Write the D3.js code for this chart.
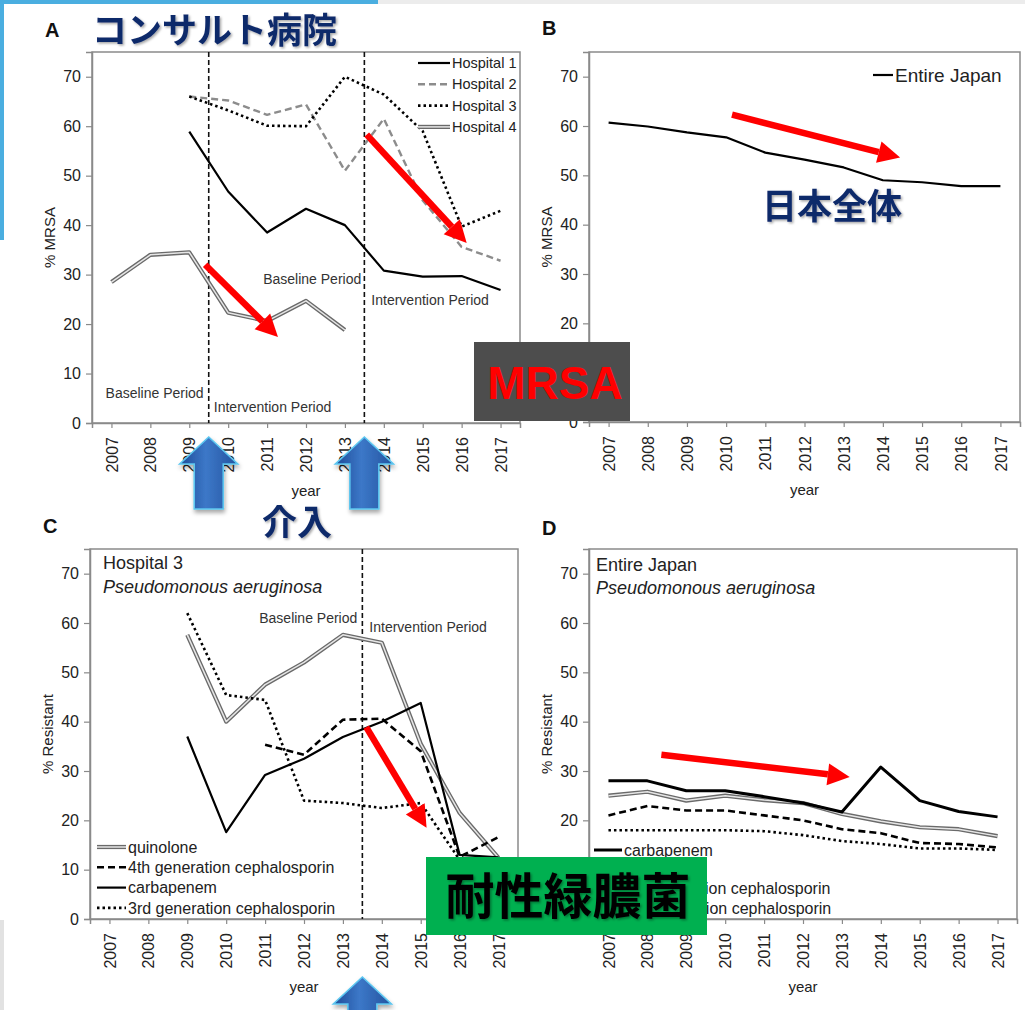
<!DOCTYPE html>
<html>
<head>
<meta charset="utf-8">
<script src="https://cdn.jsdelivr.net/npm/d3@7"></script>
<style>
  html, body { margin: 0; padding: 0; background: #fff; }
  svg { display: block; }
</style>
</head>
<body>
<svg id="chart" width="1025" height="1010"></svg>
<script>
// ---------- data ----------
const years  = [2007, 2008, 2009, 2010, 2011, 2012, 2013, 2014, 2015, 2016, 2017];
const yTicks = [0, 10, 20, 30, 40, 50, 60, 70];

// A: MRSA (%) in the consulted hospitals
const hospital1 = [null, null, 58.9, 46.8, 38.5, 43.3, 40.0, 30.8, 29.6, 29.7, 26.9];
const hospital2 = [null, null, 66.0, 65.2, 62.3, 64.4, 51.0, 61.5, 45.0, 35.6, 32.8];
const hospital3 = [null, null, 66.0, 63.2, 60.1, 60.0, 70.0, 66.4, 59.0, 39.7, 42.9];
const hospital4 = [28.5, 34.0, 34.5, 22.3, 20.6, 24.7, 18.8, null, null, null, null];

// B: MRSA (%) in all of Japan
const japanMRSA = [60.7, 59.9, 58.7, 57.7, 54.6, 53.2, 51.6, 49.0, 48.6, 47.8, 47.8];

// C: Pseudomonas resistance (%) in Hospital 3
const h3Quinolone  = [null, null, 57.6, 40.0, 47.5, 52.0, 57.6, 56.0, 35.5, 21.5, 12.4];
const h3Fourth     = [null, null, null, null, 35.3, 33.3, 40.4, 40.6, 34.0, 12.6, 16.6];
const h3Carbapenem = [null, null, 37.0, 17.6, 29.2, 32.5, 36.9, 40.0, 43.8, 13.0, 12.5];
const h3Third      = [null, null, 62.0, 45.4, 44.4, 24.0, 23.5, 22.5, 23.5, 12.0, 10.0];

// D: Pseudomonas resistance (%) in all of Japan
const jpCarbapenem = [28.0, 28.0, 26.0, 26.0, 24.8, 23.5, 21.7, 30.8, 24.0, 21.8, 20.7];
const jpQuinolone  = [25.0, 25.8, 24.0, 25.0, 24.1, 23.5, 21.3, 19.8, 18.6, 18.2, 16.8];
const jpFourth     = [21.0, 22.9, 22.0, 22.0, 21.0, 20.0, 18.2, 17.4, 15.4, 15.2, 14.5];
const jpThird      = [18.0, 18.0, 18.0, 18.0, 17.8, 17.0, 15.8, 15.2, 14.3, 14.3, 14.0];

const interventionA = [2009.5, 2013.5];
const interventionC = [2013.5];

// ---------- setup ----------
const LATIN = '"Liberation Sans", Arial, Helvetica, sans-serif';
const CJK = '"Noto Sans CJK JP", "Noto Sans CJK SC", sans-serif';
const NAVY = '#10296b';

const svg = d3.select('#chart');
const defs = svg.append('defs');

const shadow = defs.append('filter').attr('id', 'txtShadow')
  .attr('x', '-10%').attr('y', '-20%').attr('width', '130%').attr('height', '150%');
shadow.append('feDropShadow').attr('dx', 1.5).attr('dy', 1.5).attr('stdDeviation', 1.2)
  .attr('flood-color', '#000').attr('flood-opacity', 0.35);

const arrowShadow = defs.append('filter').attr('id', 'arrowShadow')
  .attr('x', '-30%').attr('y', '-20%').attr('width', '160%').attr('height', '150%');
arrowShadow.append('feDropShadow').attr('dx', 1).attr('dy', 3).attr('stdDeviation', 2)
  .attr('flood-color', '#000').attr('flood-opacity', 0.35);

const blueGrad = defs.append('linearGradient').attr('id', 'blueGrad')
  .attr('x1', 0).attr('x2', 1).attr('y1', 0).attr('y2', 0);
blueGrad.append('stop').attr('offset', 0).attr('stop-color', '#1e4b98');
blueGrad.append('stop').attr('offset', 0.45).attr('stop-color', '#3c78c8');
blueGrad.append('stop').attr('offset', 1).attr('stop-color', '#24539f');

// slide background trims
svg.append('rect').attr('x', 0).attr('y', 0).attr('width', 378).attr('height', 4).attr('fill', '#4aaee0');
svg.append('rect').attr('x', 378).attr('y', 0).attr('width', 647).attr('height', 4).attr('fill', '#ececec');
svg.append('rect').attr('x', 0).attr('y', 0).attr('width', 4).attr('height', 240).attr('fill', '#4aaee0');
svg.append('rect').attr('x', 0).attr('y', 920).attr('width', 4).attr('height', 90).attr('fill', '#e2e2e2');

// ---------- helpers ----------
function panel(p) {
  const g = svg.append('g');
  const x = d3.scaleLinear().domain([2006.5, 2017.5]).range([p.left, p.right]);
  const y = d3.scaleLinear().domain([0, 75]).range([p.bottom, p.top]);

  g.append('rect')
    .attr('x', p.left).attr('y', p.top)
    .attr('width', p.right - p.left).attr('height', p.bottom - p.top)
    .attr('fill', '#fff').attr('stroke', '#8a8a8a').attr('stroke-width', 1.5);

  const ya = g.append('g').attr('transform', `translate(${p.left},0)`)
    .call(d3.axisLeft(y).tickValues(yTicks).tickSize(6).tickPadding(5));
  ya.select('.domain').attr('stroke', '#8a8a8a').attr('stroke-width', 1.5);
  ya.selectAll('.tick line').attr('stroke', '#8a8a8a').attr('stroke-width', 1.2);
  ya.selectAll('.tick text').attr('font-size', 16).attr('font-family', LATIN).attr('fill', '#222');

  const xa = g.append('g').attr('transform', `translate(0,${p.bottom})`)
    .call(d3.axisBottom(x).tickValues(years).tickSize(5).tickFormat(d3.format('d')));
  xa.select('.domain').attr('stroke', '#8a8a8a').attr('stroke-width', 1.5);
  xa.selectAll('.tick line').attr('stroke', '#8a8a8a').attr('stroke-width', 1.2);
  xa.selectAll('.tick text')
    .attr('transform', 'rotate(-90)')
    .attr('x', -14).attr('y', 0).attr('dy', '0.35em')
    .style('text-anchor', 'end')
    .attr('font-size', 16).attr('font-family', LATIN).attr('fill', '#222');

  g.append('text')
    .attr('x', (p.left + p.right) / 2).attr('y', p.bottom + 73)
    .attr('text-anchor', 'middle').attr('font-family', LATIN).attr('font-size', 15)
    .attr('fill', '#222').text('year');

  g.append('text')
    .attr('transform', `translate(${p.left - 37},${(p.top + p.bottom) / 2}) rotate(-90)`)
    .attr('text-anchor', 'middle').attr('font-family', LATIN).attr('font-size', 15)
    .attr('fill', '#222').text(p.yLabel);

  g.append('text')
    .attr('x', p.labelX).attr('y', p.labelY)
    .attr('font-family', LATIN).attr('font-size', 20).attr('font-weight', 'bold')
    .attr('fill', '#111').text(p.letter);

  return { g, x, y, p };
}

const STYLES = {
  solid:    [{ stroke: '#000', width: 2.2 }],
  thick:    [{ stroke: '#000', width: 3 }],
  dash:     [{ stroke: '#000', width: 2.6, dash: '7,4' }],
  grayDash: [{ stroke: '#8c8c8c', width: 2.4, dash: '7,4' }],
  dot:      [{ stroke: '#000', width: 2.6, dash: '2.5,3' }],
  double:   [{ stroke: '#6a6a6a', width: 4.2 }, { stroke: '#e6e6e6', width: 1.5 }]
};

function series(P, values, style) {
  const pts = years.map((yr, i) => [yr, values[i]]);
  const line = d3.line().defined(d => d[1] != null)
    .x(d => P.x(d[0])).y(d => P.y(d[1]));
  STYLES[style].forEach(s => {
    P.g.append('path').datum(pts)
      .attr('d', line).attr('fill', 'none')
      .attr('stroke', s.stroke).attr('stroke-width', s.width)
      .attr('stroke-dasharray', s.dash || null)
      .attr('stroke-linejoin', 'round');
  });
}

function legend(P, items, opt) {
  items.forEach((it, i) => {
    const cy = opt.y0 + i * opt.dy;
    STYLES[it.style].forEach(s => {
      P.g.append('line')
        .attr('x1', opt.x1).attr('x2', opt.x2).attr('y1', cy).attr('y2', cy)
        .attr('stroke', s.stroke).attr('stroke-width', s.width)
        .attr('stroke-dasharray', s.dash || null);
    });
    P.g.append('text')
      .attr('x', opt.x2 + 2).attr('y', cy).attr('dy', '0.35em')
      .attr('font-family', LATIN).attr('font-size', opt.size).attr('fill', '#222')
      .text(it.label);
  });
}

function vline(P, yr) {
  P.g.append('line')
    .attr('x1', P.x(yr)).attr('x2', P.x(yr))
    .attr('y1', P.p.top).attr('y2', P.p.bottom)
    .attr('stroke', '#111').attr('stroke-width', 1.6).attr('stroke-dasharray', '5,3');
}

function note(P, yr, val, txt, anchor, size) {
  P.g.append('text')
    .attr('x', P.x(yr)).attr('y', P.y(val)).attr('dy', '0.35em')
    .attr('text-anchor', anchor)
    .attr('font-family', LATIN).attr('font-size', size || 14).attr('fill', '#333')
    .text(txt);
}

function redArrow(P, a, b) {
  const x1 = P.x(a[0]), y1 = P.y(a[1]), x2 = P.x(b[0]), y2 = P.y(b[1]);
  const dx = x2 - x1, dy = y2 - y1, len = Math.hypot(dx, dy);
  const ux = dx / len, uy = dy / len, hl = 22, hw = 11;
  const bx = x2 - ux * hl, by = y2 - uy * hl;
  svg.append('line').attr('x1', x1).attr('y1', y1).attr('x2', bx).attr('y2', by)
    .attr('stroke', '#ff0000').attr('stroke-width', 6.5);
  svg.append('polygon')
    .attr('points', [[x2, y2], [bx - uy * hw, by + ux * hw], [bx + uy * hw, by - ux * hw]].map(d => d.join(',')).join(' '))
    .attr('fill', '#ff0000');
}

function blueArrow(cx, tipY, total) {
  const hw = 29, sw = 14.5, hh = 27;
  const path = d3.path();
  path.moveTo(cx, tipY);
  path.lineTo(cx + hw, tipY + hh);
  path.lineTo(cx + sw, tipY + hh);
  path.lineTo(cx + sw, tipY + total);
  path.lineTo(cx - sw, tipY + total);
  path.lineTo(cx - sw, tipY + hh);
  path.lineTo(cx - hw, tipY + hh);
  path.closePath();
  svg.append('path').attr('d', path.toString())
    .attr('fill', 'url(#blueGrad)').attr('stroke', '#5cc6f0').attr('stroke-width', 1.6)
    .attr('stroke-linejoin', 'miter').attr('filter', 'url(#arrowShadow)');
}

function cjkText(x, y, size, txt, fill, anchor) {
  svg.append('text')
    .attr('x', x).attr('y', y).attr('text-anchor', anchor || 'start')
    .attr('font-family', CJK).attr('font-weight', 700).attr('font-size', size)
    .attr('fill', fill).attr('filter', 'url(#txtShadow)')
    .text(txt);
}

// ---------- panel A ----------
const A = panel({ left: 92, right: 520, top: 52, bottom: 423, yLabel: '% MRSA', letter: 'A', labelX: 45, labelY: 37 });
interventionA.forEach(yr => vline(A, yr));
series(A, hospital4, 'double');
series(A, hospital2, 'grayDash');
series(A, hospital3, 'dot');
series(A, hospital1, 'solid');
legend(A, [
  { label: 'Hospital 1', style: 'solid' },
  { label: 'Hospital 2', style: 'grayDash' },
  { label: 'Hospital 3', style: 'dot' },
  { label: 'Hospital 4', style: 'double' }
], { x1: 418, x2: 450, y0: 63, dy: 21.3, size: 14.5 });
note(A, 2009.37, 6.1, 'Baseline Period', 'end');
note(A, 2009.63, 3.2, 'Intervention Period', 'start');
note(A, 2013.42, 29.1, 'Baseline Period', 'end');
note(A, 2013.68, 24.9, 'Intervention Period', 'start');

// ---------- panel B ----------
const B = panel({ left: 589, right: 1020, top: 52, bottom: 422, yLabel: '% MRSA', letter: 'B', labelX: 542, labelY: 35 });
series(B, japanMRSA, 'solid');
legend(B, [{ label: 'Entire Japan', style: 'solid' }], { x1: 873, x2: 893, y0: 75, dy: 20, size: 19 });

// ---------- panel C ----------
const C = panel({ left: 90, right: 518, top: 549, bottom: 919, yLabel: '% Resistant', letter: 'C', labelX: 43, labelY: 533 });
interventionC.forEach(yr => vline(C, yr));
series(C, h3Quinolone, 'double');
series(C, h3Third, 'dot');
series(C, h3Fourth, 'dash');
series(C, h3Carbapenem, 'solid');
C.g.append('text').attr('x', 103).attr('y', 563).attr('dy', '0.35em')
  .attr('font-family', LATIN).attr('font-size', 18).attr('fill', '#222').text('Hospital 3');
C.g.append('text').attr('x', 103).attr('y', 587).attr('dy', '0.35em')
  .attr('font-family', LATIN).attr('font-size', 18).attr('font-style', 'italic').attr('fill', '#222')
  .text('Pseudomonous aeruginosa');
note(C, 2013.37, 61, 'Baseline Period', 'end');
note(C, 2013.68, 59.2, 'Intervention Period', 'start');
legend(C, [
  { label: 'quinolone', style: 'double' },
  { label: '4th generation cephalosporin', style: 'dash' },
  { label: 'carbapenem', style: 'solid' },
  { label: '3rd generation cephalosporin', style: 'dot' }
], { x1: 97, x2: 126, y0: 847, dy: 20.3, size: 16 });

// ---------- panel D ----------
const D = panel({ left: 589, right: 1017, top: 549, bottom: 919, yLabel: '% Resistant', letter: 'D', labelX: 542, labelY: 535 });
series(D, jpThird, 'dot');
series(D, jpFourth, 'dash');
series(D, jpQuinolone, 'double');
series(D, jpCarbapenem, 'thick');
D.g.append('text').attr('x', 596).attr('y', 565).attr('dy', '0.35em')
  .attr('font-family', LATIN).attr('font-size', 18).attr('fill', '#222').text('Entire Japan');
D.g.append('text').attr('x', 596).attr('y', 588).attr('dy', '0.35em')
  .attr('font-family', LATIN).attr('font-size', 18).attr('font-style', 'italic').attr('fill', '#222')
  .text('Pseudomonous aeruginosa');
legend(D, [
  { label: 'carbapenem', style: 'thick' },
  { label: 'quinolone', style: 'double' },
  { label: '4th generation cephalosporin', style: 'dash' },
  { label: '3rd generation cephalosporin', style: 'dot' }
], { x1: 594, x2: 622, y0: 850, dy: 19.3, size: 16 });

// ---------- trend arrows ----------
redArrow(A, [2013.56, 58.3], [2016.13, 36.4]);
redArrow(A, [2009.41, 32.0], [2011.28, 17.4]);
redArrow(B, [2010.15, 62.3], [2014.44, 53.6]);
redArrow(C, [2013.6, 38.9], [2015.15, 18.5]);
redArrow(D, [2008.36, 33.3], [2013.2, 28.8]);

// intervention markers below the year axes
interventionA.forEach(yr => blueArrow(A.x(yr), A.p.bottom + 14, 72));
interventionC.forEach(yr => blueArrow(C.x(yr), C.p.bottom + 58, 72));

// ---------- callouts ----------
cjkText(92, 43, 35, 'コンサルト病院', NAVY);
cjkText(762, 219, 35, '日本全体', NAVY);
cjkText(262, 535, 35, '介入', NAVY);

svg.append('rect').attr('x', 474).attr('y', 342).attr('width', 156).attr('height', 79).attr('fill', '#4d4d4d');
svg.append('text').attr('x', 555).attr('y', 399).attr('text-anchor', 'middle')
  .attr('font-family', LATIN).attr('font-weight', 'bold').attr('font-size', 46)
  .attr('fill', '#ff0000').text('MRSA');

svg.append('rect').attr('x', 426).attr('y', 857).attr('width', 281).attr('height', 78).attr('fill', '#00b050');
cjkText(568, 914, 49, '耐性緑膿菌', '#000', 'middle');
</script>
</body>
</html>
